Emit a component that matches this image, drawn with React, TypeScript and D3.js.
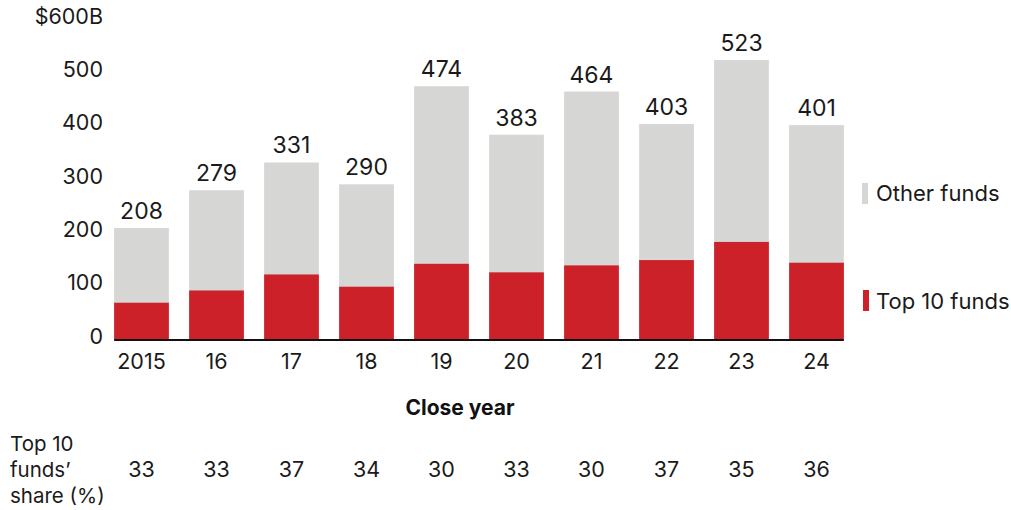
import React from "react";
import * as d3 from "d3";

const years = ["2015", "16", "17", "18", "19", "20", "21", "22", "23", "24"];
const totals = [208, 279, 331, 290, 474, 383, 464, 403, 523, 401];
const top10 = [68, 91, 121, 98, 141, 125, 138, 148, 182, 143];
const shares = [33, 33, 37, 34, 30, 33, 30, 37, 35, 36];
const yTicks = [0, 100, 200, 300, 400, 500, 600];

const GRAY = "#d6d6d5";
const RED = "#cc2128";
const FONT = "Inter, 'Noto Sans', sans-serif";

export default function App() {
  const width = 1011;
  const height = 510;
  const x = d3.scaleBand<string>().domain(years).range([104, 854]).paddingInner(0.27).paddingOuter(0.135);
  const y = d3.scaleLinear().domain([0, 600]).range([339, 19]);
  const bw = x.bandwidth();
  const x0 = x(years[0])!;
  const x1 = x(years[years.length - 1])! + bw;

  return (
    <svg width={width} height={height} style={{ position: "absolute", left: 0, top: 0 }} fontFamily={FONT}>
      <rect width={width} height={height} fill="#fff" />
      {yTicks.map((t) => (
        <text key={t} x={103} y={y(t) - 3} dy="0.36em" textAnchor="end" fontSize={21.5} fill="#1a1a1a">
          {t === 600 ? "$600B" : t}
        </text>
      ))}
      {years.map((yr, i) => (
        <g key={yr}>
          <rect x={x(yr)} y={y(totals[i])} width={bw} height={y(0) - y(totals[i])} fill={GRAY} />
          <rect x={x(yr)} y={y(top10[i])} width={bw} height={y(0) - y(top10[i])} fill={RED} />
          <text x={x(yr)! + bw / 2} y={y(totals[i]) - 9} textAnchor="middle" fontSize={23} fill="#1a1a1a">
            {totals[i]}
          </text>
          <text x={x(yr)! + bw / 2} y={369} textAnchor="middle" fontSize={21.5} fill="#1a1a1a">
            {yr}
          </text>
          <text x={x(yr)! + bw / 2} y={477} textAnchor="middle" fontSize={21.5} fill="#1a1a1a">
            {shares[i]}
          </text>
        </g>
      ))}
      <line x1={x0} x2={x1} y1={340} y2={340} stroke="#111" strokeWidth={2} />
      <text x={460} y={415} textAnchor="middle" fontSize={21} fontWeight={700} fill="#111">
        Close year
      </text>
      <text x={10} fontSize={20.5} fill="#1a1a1a">
        <tspan x={10} y={451}>Top 10</tspan>
        <tspan x={10} y={477}>funds’</tspan>
        <tspan x={10} y={503}>share (%)</tspan>
      </text>
      <rect x={862} y={183} width={6} height={21} fill={GRAY} />
      <text x={876} y={201} fontSize={22} fill="#1a1a1a">Other funds</text>
      <rect x={863} y={290} width={6} height={21} fill={RED} />
      <text x={876} y={309} fontSize={22} fill="#1a1a1a">Top 10 funds</text>
    </svg>
  );
}
